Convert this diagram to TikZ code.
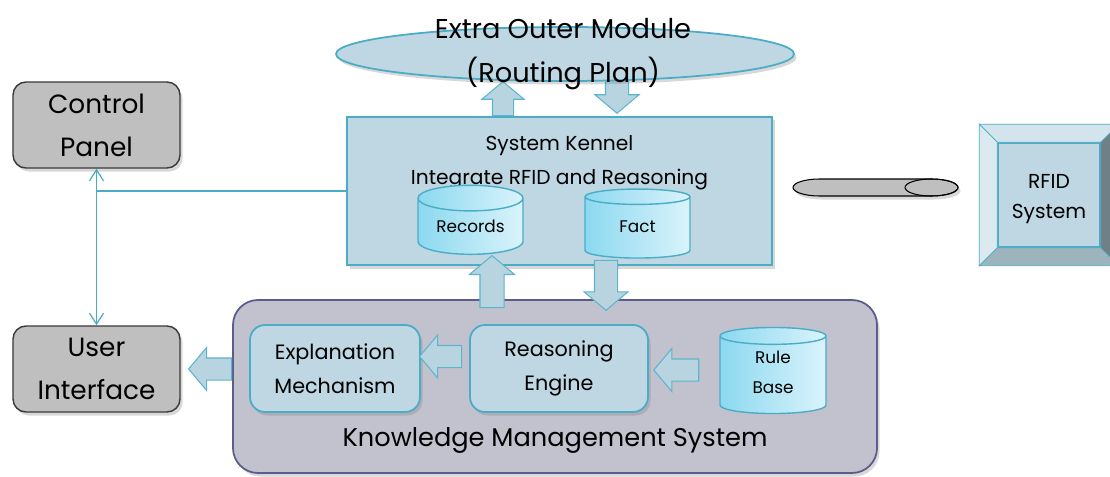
\documentclass[tikz,border=0pt]{standalone}
\usepackage{fontspec}
\setmainfont{Poppins}
\usetikzlibrary{positioning,calc,shapes.geometric,shapes.arrows,arrows.meta,shadows}

\definecolor{paleblue}{HTML}{BED7E3}
\definecolor{tealline}{HTML}{4BACC6}
\definecolor{kmsfill}{HTML}{C2C1CE}
\definecolor{kmsline}{HTML}{5B5B8C}
\definecolor{panelfill}{HTML}{BFBFBF}
\definecolor{panelline}{HTML}{3A3A3A}
\definecolor{arrowfill}{HTML}{B8D4E1}
\definecolor{arrowline}{HTML}{5DB5CC}
\definecolor{drumdark}{HTML}{8CD9F0}
\definecolor{drumlight}{HTML}{DAF3FB}
\definecolor{bevtop}{HTML}{D3E4EC}
\definecolor{bevleft}{HTML}{DCE9EF}
\definecolor{bevbottom}{HTML}{9DB4BC}
\definecolor{bevright}{HTML}{6F8087}

\tikzset{
	soft/.style={drop shadow={shadow xshift=0.5mm, shadow yshift=-0.7mm, opacity=0.3}},
	panel/.style={soft, draw=panelline, fill=panelfill, line width=0.8pt, rounded corners=2.6mm,
		minimum width=33.4mm, minimum height=17.2mm, align=center, font=\fontsize{15}{24.4}\selectfont},
	unitbox/.style={soft, draw=tealline, fill=paleblue, line width=1pt, rounded corners=3mm,
		minimum height=17.4mm, align=center, font=\fontsize{11.8}{19.3}\selectfont},
	drum/.style={cylinder, shape border rotate=90, aspect=0.32, draw=tealline, line width=0.8pt,
		left color=drumdark, right color=drumlight, minimum width=21mm, minimum height=13.8mm,
		align=center, font=\fontsize{9.6}{17}\selectfont},
	fat/.style={single arrow, draw=arrowline, fill=arrowfill, line width=0.6pt, inner sep=2.1mm,
		single arrow head extend=2.1mm, single arrow tip angle=100, anchor=tail},
	link/.style={draw=tealline, line width=0.7pt},
}

\begin{document}
\begin{tikzpicture}[x=0.2mm, y=-0.2mm]
	\clip (0,0) rectangle (1110,477);
	\fill[white] (0,0) rectangle (1110,477);

	% panels
	\node[panel] (ctrl) at (96.5,125) {Control\\Panel};
	\node[panel] (ui) at (96.5,369) {User\\Interface};

	% knowledge management system
	\node[soft, draw=kmsline, fill=kmsfill, line width=1pt, rounded corners=5mm,
		minimum width=128.8mm, minimum height=34.6mm] (kms) at (555,386.5) {};
	\node[font=\fontsize{14.6}{18}\selectfont] (kmslbl) at (555,440) {Knowledge Management System};
	\node[unitbox, minimum width=34mm] (expl) at (335,368.5) {Explanation\\Mechanism};
	\node[unitbox, minimum width=35.6mm] (reason) at (559,368.5) {Reasoning\\Engine};
	\node[drum, minimum width=21.2mm, minimum height=14mm, text depth=5.6pt] (rule) at (773,377) {Rule\\Base};

	% kernel
	\node[soft, draw=tealline, fill=paleblue, line width=1pt,
		minimum width=85mm, minimum height=29.6mm] (kern) at (559.5,191) {};
	\node[align=center, font=\fontsize{11.5}{19.3}\selectfont] (kernlbl) at (559.5,163)
		{System Kennel\\Integrate RFID and Reasoning};
	\foreach \n/\t/\x in {rec/Records/470.5, fact/Fact/637.5}
		\node[drum, text depth=3.4pt] (\n) at (\x,229.5) {\t};

	% outer module
	\node[fat, shape border rotate=90, minimum height=6.8mm, inner sep=2mm] (up1) at ([xshift=-11.3mm]kern.north) {};
	\node[fat, shape border rotate=270, minimum height=5.6mm, inner sep=2.2mm] (dn1) at (617,80) {};
	\node[soft, ellipse, draw=tealline, fill=paleblue, line width=1pt,
		minimum width=91.6mm, minimum height=10.8mm] (outer) at (565,54) {};
	\node[align=center, font=\fontsize{15.5}{25}\selectfont] (outerlbl) at (563,54)
		{Extra Outer Module\\(Routing Plan)};

	% arrows inside
	\node[fat, shape border rotate=90, minimum height=10.4mm, inner sep=2.3mm] (up2) at ($(kms.north -| rec.south)+(21.5,9)$) {};
	\node[fat, shape border rotate=270, minimum height=10mm, inner sep=2.2mm] (dn2) at ($(fact.south)+(-31.5,1)$) {};
	\node[fat, shape border rotate=180, minimum height=8.4mm] (lf1) at ($(reason.west)+(-7,-12)$) {};
	\node[fat, shape border rotate=180, minimum height=9mm] (lf2) at ($(rule.west)+(-20,-7)$) {};
	\node[fat, shape border rotate=180, minimum height=8.6mm] (lf3) at (kms.west |- ui.east) {};

	% links
	\draw[link] (kern.west) -- (kern.west -| ctrl.south);
	\draw[link, {Straight Barb[length=2.2mm,width=2.8mm]}-{Straight Barb[length=2.2mm,width=2.8mm]}]
		(ctrl.south) -- (ui.north);

	% cable
	\coordinate (cable) at (931.5,187.5);
	\filldraw[soft, fill=gray!50, line width=0.6pt] ($(cable)+(-112,-8.5)$) -- ($(cable)+(0,-8.5)$)
		arc[start angle=-90, end angle=90, x radius=26.5, y radius=8.5] -- ($(cable)+(-112,8.5)$)
		arc[start angle=90, end angle=270, x radius=26.5, y radius=8.5] -- cycle;
	\draw[line width=0.6pt] (cable) ellipse[x radius=26.5, y radius=8.5];

	% rfid
	\node[draw=tealline, fill=paleblue, line width=0.8pt, minimum width=20.4mm, minimum height=20.8mm] (rfid) at (1049,195) {};
	\coordinate (tl) at ($(rfid.north west)+(-18,-18)$);
	\coordinate (tr) at ($(rfid.north east)+(18,-18)$);
	\coordinate (br) at ($(rfid.south east)+(18,18)$);
	\coordinate (bl) at ($(rfid.south west)+(-18,18)$);
	\filldraw[draw=tealline, fill=bevtop] (tl) -- (tr) -- (rfid.north east) -- (rfid.north west) -- cycle;
	\filldraw[draw=tealline, fill=bevleft] (tl) -- (bl) -- (rfid.south west) -- (rfid.north west) -- cycle;
	\filldraw[draw=tealline, fill=bevbottom] (bl) -- (br) -- (rfid.south east) -- (rfid.south west) -- cycle;
	\filldraw[draw=tealline, fill=bevright] (tr) -- (br) -- (rfid.south east) -- (rfid.north east) -- cycle;
	\node[align=center, font=\fontsize{11.5}{17}\selectfont] (rfidlbl) at (1049,199) {RFID\\System};
\end{tikzpicture}
\end{document}
